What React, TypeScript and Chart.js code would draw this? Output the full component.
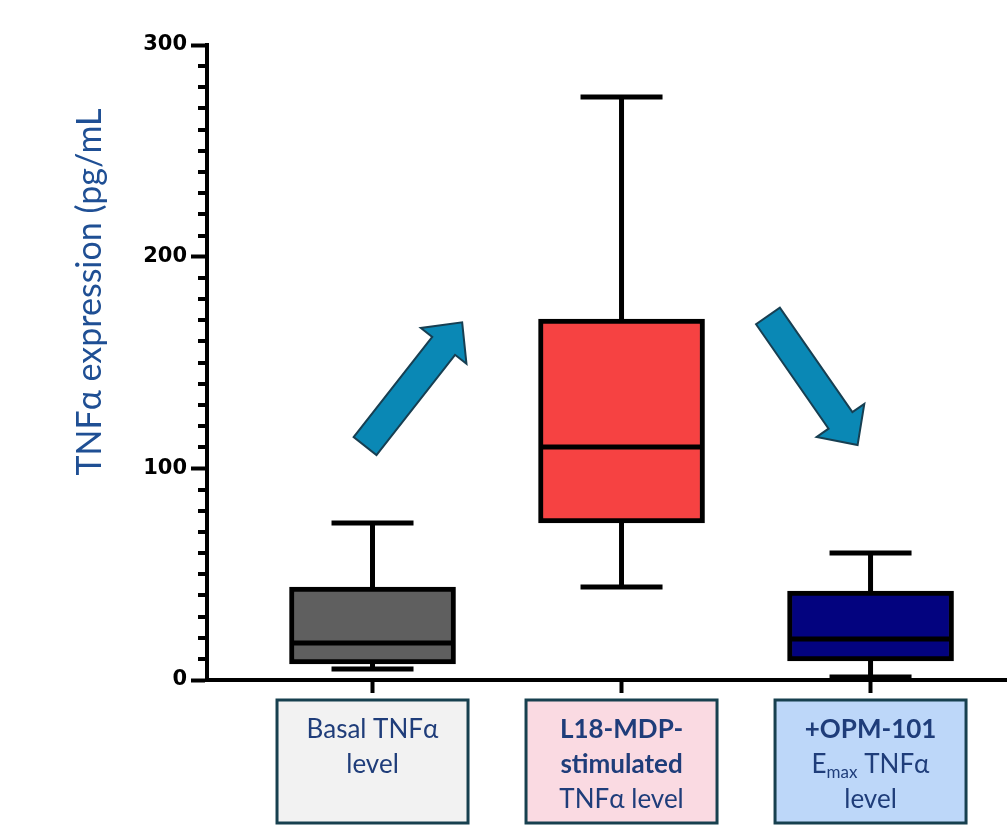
import React, { useEffect, useRef } from "react";
import { Chart, registerables } from "chart.js";

Chart.register(...registerables);

// ---- data ----
const categories = ["Basal TNFα level", "L18-MDP-stimulated TNFα level", "+OPM-101 Emax TNFα level"];
const whiskerMin = [5.2, 43.9, 1.4];
const q1 = [7.6, 74.2, 9.0];
const median = [17.5, 110.1, 19.4];
const q3 = [43.9, 170.5, 42.0];
const whiskerMax = [74.2, 275.4, 60.0];
const yTickValues = [0, 100, 200, 300];
const yMinorStep = 10;

// label box text (segments: text, bold, subscript)
type Seg = { t: string; b?: boolean; sub?: boolean };
const labelLines: Seg[][][] = [
  [[{ t: "Basal TNFα" }], [{ t: "level" }]],
  [[{ t: "L18-MDP-", b: true }], [{ t: "stimulated", b: true }], [{ t: "TNFα level" }]],
  [[{ t: "+OPM-101", b: true }], [{ t: "E" }, { t: "max", sub: true }, { t: " TNFα" }], [{ t: "level" }]],
];

// trend arrows in data coordinates: [category index, value]
const arrowTails = [[-0.03, 110.5], [1.588, 172]];
const arrowTips = [[0.36, 169], [1.948, 111]];

// ---- styles ----
const boxColors = ["#5f5f5f", "#f64242", "#03037f"];
const labelFills = ["#f2f2f2", "#fadae2", "#bdd7f9"];
const textBlue = "#1f3d7a";
const titleBlue = "#1f4f94";
const FONT = "Lato, 'Noto Sans', sans-serif";

const boxPlotPlugin = {
  id: "boxExtras",
  afterDatasetsDraw(chart: any) {
    const { ctx, scales } = chart;
    const xs = scales.x;
    const ys = scales.y;
    const meta = chart.getDatasetMeta(0);
    ctx.save();
    ctx.strokeStyle = "#000";
    ctx.lineCap = "butt";
    categories.forEach((_, i) => {
      const cx = xs.getPixelForValue(i);
      const bar = meta.data[i];
      const half = bar ? bar.width / 2 : 83;
      const capHalf = 41;
      ctx.lineWidth = 5;
      ctx.beginPath();
      ctx.moveTo(cx, ys.getPixelForValue(q3[i]));
      ctx.lineTo(cx, ys.getPixelForValue(whiskerMax[i]));
      ctx.stroke();
      ctx.beginPath();
      ctx.moveTo(cx - capHalf, ys.getPixelForValue(whiskerMax[i]));
      ctx.lineTo(cx + capHalf, ys.getPixelForValue(whiskerMax[i]));
      ctx.stroke();
      ctx.beginPath();
      ctx.moveTo(cx, ys.getPixelForValue(q1[i]));
      ctx.lineTo(cx, ys.getPixelForValue(whiskerMin[i]));
      ctx.stroke();
      ctx.beginPath();
      ctx.moveTo(cx - capHalf, ys.getPixelForValue(whiskerMin[i]));
      ctx.lineTo(cx + capHalf, ys.getPixelForValue(whiskerMin[i]));
      ctx.stroke();
      ctx.beginPath();
      ctx.moveTo(cx - half + 2, ys.getPixelForValue(median[i]));
      ctx.lineTo(cx + half - 2, ys.getPixelForValue(median[i]));
      ctx.stroke();
    });
    ctx.restore();
  },
  afterDraw(chart: any) {
    const { ctx, scales, chartArea } = chart;
    const xs = scales.x;
    const ys = scales.y;
    ctx.save();
    // minor y ticks
    ctx.strokeStyle = "#000";
    ctx.lineWidth = 4;
    for (let v = ys.min; v <= ys.max; v += yMinorStep) {
      if (yTickValues.includes(v)) continue;
      const py = Math.round(ys.getPixelForValue(v));
      ctx.beginPath();
      ctx.moveTo(chartArea.left - 9, py);
      ctx.lineTo(chartArea.left, py);
      ctx.stroke();
    }
    // arrows
    arrowTails.forEach((tail, k) => {
      const tip = arrowTips[k];
      const x0 = xs.getPixelForValue(tail[0]);
      const y0 = ys.getPixelForValue(tail[1]);
      const x1 = xs.getPixelForValue(tip[0]);
      const y1 = ys.getPixelForValue(tip[1]);
      const dx = x1 - x0, dy = y1 - y0;
      const len = Math.hypot(dx, dy);
      const ux = dx / len, uy = dy / len;
      const nx = -uy, ny = ux;
      const sw = 14.5, hw = 29, hl = 30;
      const bx = x1 - ux * hl, by = y1 - uy * hl;
      ctx.beginPath();
      ctx.moveTo(x0 + nx * sw, y0 + ny * sw);
      ctx.lineTo(bx + nx * sw, by + ny * sw);
      ctx.lineTo(bx + nx * hw, by + ny * hw);
      ctx.lineTo(x1, y1);
      ctx.lineTo(bx - nx * hw, by - ny * hw);
      ctx.lineTo(bx - nx * sw, by - ny * sw);
      ctx.lineTo(x0 - nx * sw, y0 - ny * sw);
      ctx.closePath();
      ctx.fillStyle = "#0a88b5";
      ctx.fill();
      ctx.lineWidth = 2;
      ctx.lineJoin = "miter";
      ctx.strokeStyle = "#173f52";
      ctx.stroke();
    });
    // y title
    ctx.save();
    ctx.translate(90, 292);
    ctx.rotate(-Math.PI / 2);
    ctx.font = `34px ${FONT}`;
    ctx.fillStyle = titleBlue;
    ctx.textAlign = "center";
    ctx.textBaseline = "middle";
    ctx.fillText("TNFα expression (pg/mL", 0, 0);
    ctx.restore();
    // label boxes
    const top = chartArea.bottom + 20;
    const h = 123;
    const w = 191;
    categories.forEach((_, i) => {
      const cx = xs.getPixelForValue(i);
      ctx.fillStyle = labelFills[i];
      ctx.fillRect(cx - w / 2, top, w, h);
      ctx.lineWidth = 3;
      ctx.strokeStyle = "#17404f";
      ctx.strokeRect(cx - w / 2, top, w, h);
      labelLines[i].forEach((line, li) => {
        const yc = top + 30 + li * 35;
        const fontFor = (s: Seg) => `${s.b ? "bold " : ""}${s.sub ? 17 : 26}px ${FONT}`;
        let total = 0;
        line.forEach((s) => {
          ctx.font = fontFor(s);
          total += ctx.measureText(s.t).width;
        });
        let x = cx - total / 2;
        ctx.fillStyle = textBlue;
        ctx.textAlign = "left";
        ctx.textBaseline = "middle";
        line.forEach((s) => {
          ctx.font = fontFor(s);
          ctx.fillText(s.t, x, yc + (s.sub ? 8 : 0));
          x += ctx.measureText(s.t).width;
        });
      });
    });
    ctx.restore();
  },
};

export default function App() {
  const ref = useRef<HTMLCanvasElement>(null);
  useEffect(() => {
    const chart = new Chart(ref.current!, {
      type: "bar",
      data: {
        datasets: [
          {
            label: "TNFα",
            data: categories.map((_, i) => ({ x: i, y: [q1[i], q3[i]] })) as any,
            backgroundColor: boxColors,
            borderColor: "#000",
            borderWidth: 5,
            borderSkipped: false,
            barThickness: 166,
          },
        ],
      },
      options: {
        responsive: false,
        animation: false,
        layout: { padding: { top: 45, left: 0, right: 0, bottom: 0 } },
        plugins: { legend: { display: false }, tooltip: { enabled: false } },
        scales: {
          x: {
            type: "linear",
            min: -0.6647,
            max: 2.548,
            offset: false,
            afterBuildTicks: (s: any) => {
              s.ticks = categories.map((_, i) => ({ value: i }));
            },
            afterFit: (s: any) => {
              s.height = 145;
            },
            ticks: { display: false },
            grid: {
              display: true,
              drawOnChartArea: false,
              drawTicks: true,
              tickLength: 13,
              tickWidth: 4,
              tickColor: "#000",
              offset: false,
            },
            border: { display: true, width: 4, color: "#000" },
          },
          y: {
            type: "linear",
            min: 0,
            max: 300,
            afterBuildTicks: (s: any) => {
              s.ticks = yTickValues.map((v) => ({ value: v }));
            },
            afterFit: (s: any) => {
              s.width = 207;
            },
            ticks: {
              color: "#000",
              font: { family: "'DejaVu Sans', sans-serif", size: 21, weight: "bold" },
              padding: 4,
            },
            grid: {
              display: true,
              drawOnChartArea: false,
              drawTicks: true,
              tickLength: 16,
              tickWidth: 4,
              tickColor: "#000",
            },
            border: { display: true, width: 4, color: "#000" },
          },
        },
      },
      plugins: [boxPlotPlugin],
    });
    return () => chart.destroy();
  }, []);
  return (
    <div style={{ position: "absolute", left: 0, top: 0, width: 1007, height: 825 }}>
      <canvas ref={ref} width={1007} height={825} style={{ display: "block" }} />
    </div>
  );
}
